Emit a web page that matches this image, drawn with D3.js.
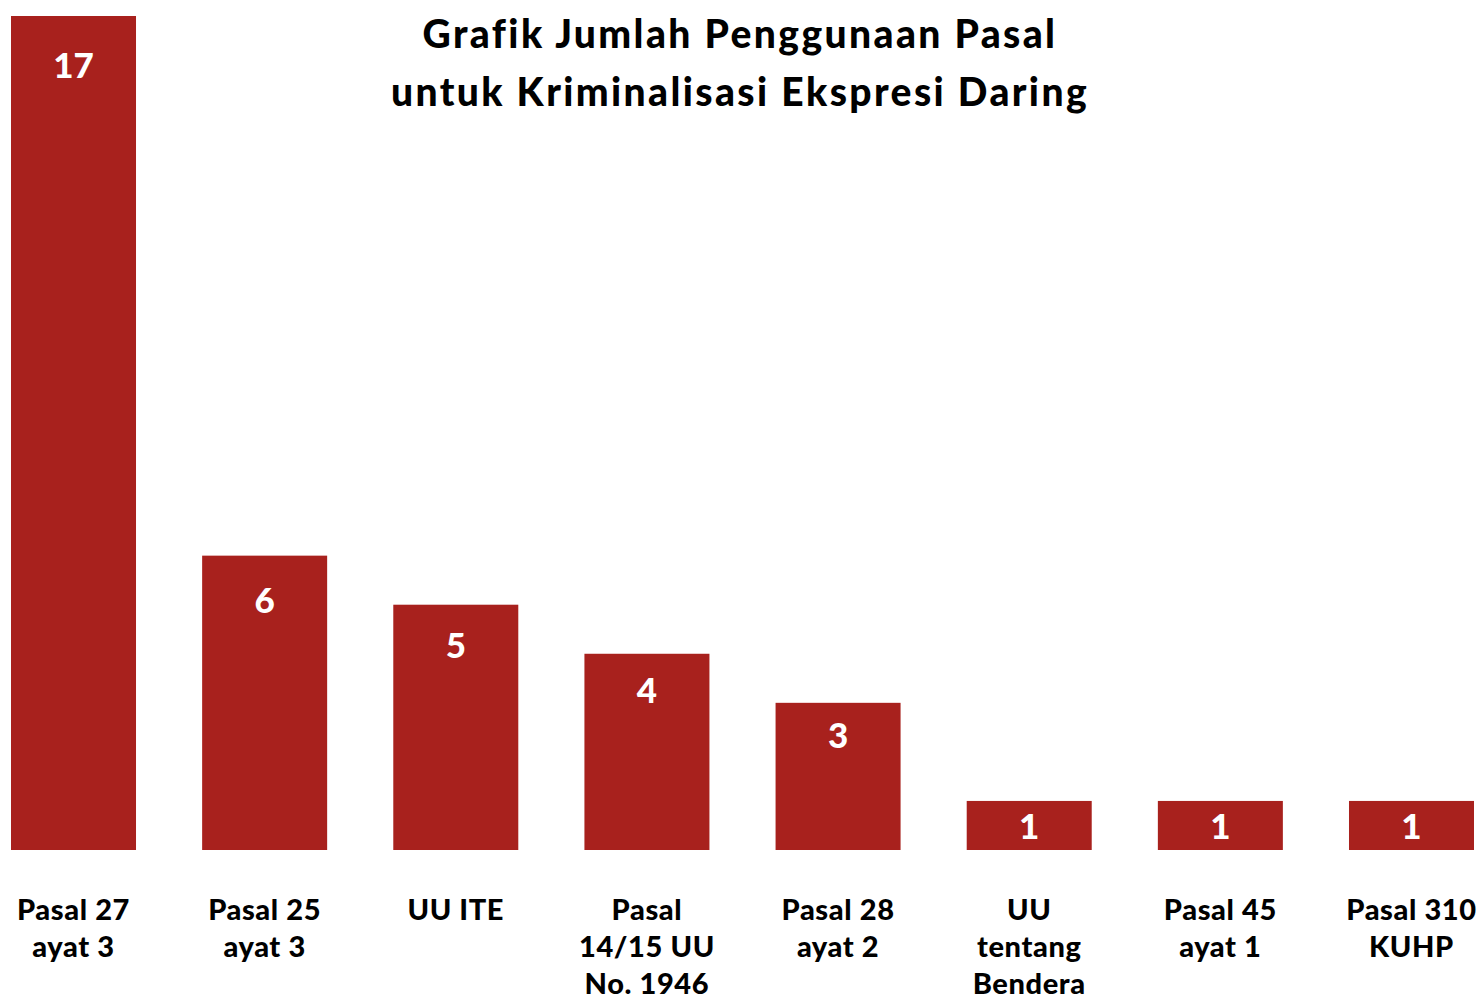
<!DOCTYPE html>
<html>
<head>
<meta charset="utf-8">
<script src="https://cdn.jsdelivr.net/npm/d3@7"></script>
<style>
  body { margin: 0; background: #fff; }
  text { font-family: Lato, "Open Sans", sans-serif; font-weight: 900; }
</style>
</head>
<body>
<div id="chart"></div>
<script>
// data
var categories = [
  ["Pasal 27", "ayat 3"],
  ["Pasal 25", "ayat 3"],
  ["UU ITE"],
  ["Pasal", "14/15 UU", "No. 1946"],
  ["Pasal 28", "ayat 2"],
  ["UU", "tentang", "Bendera"],
  ["Pasal 45", "ayat 1"],
  ["Pasal 310", "KUHP"]
];
var values = [17, 6, 5, 4, 3, 1, 1, 1];
var titleLines = ["Grafik Jumlah Penggunaan Pasal", "untuk Kriminalisasi Ekspresi Daring"];

var width = 1484, height = 998;
var barColor = "#a8211d";

var svg = d3.select("#chart").append("svg")
  .attr("width", width).attr("height", height);

var x = d3.scaleBand()
  .domain(d3.range(values.length))
  .range([11, 1474])
  .paddingInner(0.346)
  .paddingOuter(0);

var y = d3.scaleLinear().domain([0, 17]).range([850, 16]);

// bars
svg.selectAll("rect.bar").data(values).enter().append("rect")
  .attr("class", "bar")
  .attr("x", function (d, i) { return x(i); })
  .attr("y", function (d) { return y(d); })
  .attr("width", x.bandwidth())
  .attr("height", function (d) { return y(0) - y(d); })
  .attr("fill", barColor);

// value labels inside bars
svg.selectAll("text.val").data(values).enter().append("text")
  .attr("class", "val")
  .attr("x", function (d, i) { return x(i) + x.bandwidth() / 2; })
  .attr("y", function (d) {
    var h = y(0) - y(d);
    return y(d) + Math.min(38, 14 + (h - 52) * 0.08) + 24;
  })
  .attr("text-anchor", "middle")
  .attr("fill", "#fff")
  .style("font-size", "35px")
  .text(function (d) { return d; });

// category labels
var cat = svg.selectAll("text.cat").data(categories).enter().append("text")
  .attr("class", "cat")
  .attr("text-anchor", "middle")
  .attr("fill", "#000")
  .style("font-size", "29px")
  .style("letter-spacing", "0.6px");
cat.each(function (lines, i) {
  var t = d3.select(this);
  lines.forEach(function (l, j) {
    t.append("tspan")
      .attr("x", x(i) + x.bandwidth() / 2)
      .attr("y", 920 + j * 37)
      .text(l);
  });
});

// title
svg.selectAll("text.title").data(titleLines).enter().append("text")
  .attr("class", "title")
  .attr("x", 740)
  .attr("y", function (d, i) { return 48 + i * 58; })
  .attr("text-anchor", "middle")
  .attr("fill", "#000")
  .style("font-size", "39px")
  .style("letter-spacing", "2.4px")
  .text(function (d) { return d; });
</script>
</body>
</html>
